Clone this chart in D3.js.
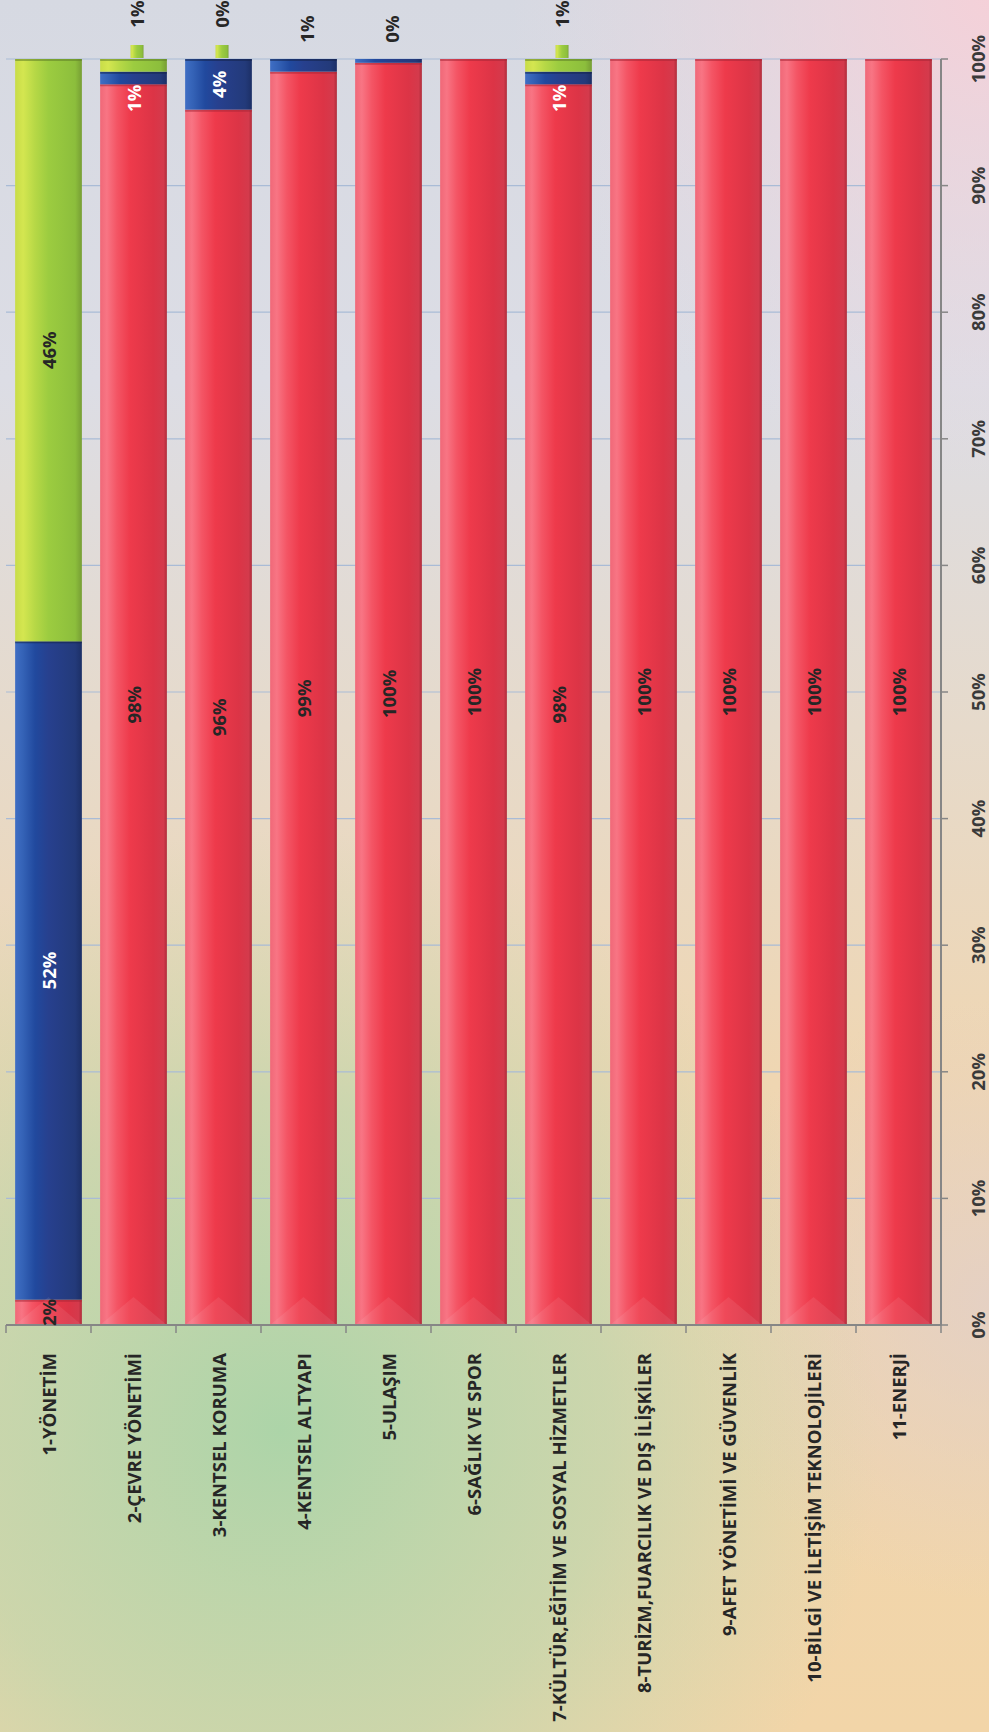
<html>
<head>
<meta charset="utf-8">
<title>Faaliyet alanlarına göre dağılım</title>
<style>
body { margin: 0; padding: 0; }
svg text { font-family: 'Open Sans', sans-serif; font-weight: bold; }
.cat text { fill: #262626; font-size: 18.5px; }
.val text { fill: #3a3a3a; font-size: 18.5px; }
.lbl { font-size: 18.5px; }
</style>
</head>
<body>
<div id="chart"></div>
<script src="https://d3js.org/d3.v7.min.js"></script>
<script>

// categories, left to right
var categories = ["1-YÖNETİM", "2-ÇEVRE YÖNETİMİ", "3-KENTSEL KORUMA", "4-KENTSEL ALTYAPI",
  "5-ULAŞIM", "6-SAĞLIK VE SPOR", "7-KÜLTÜR,EĞİTİM VE SOSYAL HİZMETLER",
  "8-TURİZM,FUARCILIK VE DIŞ İLİŞKİLER", "9-AFET YÖNETİMİ VE GÜVENLİK",
  "10-BİLGİ VE İLETİŞİM TEKNOLOJİLERİ", "11-ENERJİ"];

// series (percent), stacked bottom to top: red, blue, green
var redValues   = [2, 98, 96, 99, 99.7, 100, 98, 100, 100, 100, 100];
var blueValues  = [52, 1, 4, 1, 0.3, 0, 1, 0, 0, 0, 0];
var greenValues = [46, 1, 0, 0, 0, 0, 1, 0, 0, 0, 0];

// which labels are shown: "in" = inside segment, "out" = above the bar, null = none
var redLabels   = ["in", "in", "in", "in", "in", "in", "in", "in", "in", "in", "in"];
var blueLabels  = ["in", "in", "in", "out", "out", null, "in", null, null, null, null];
var greenLabels = ["in", "out", "out", null, null, null, "out", null, null, null, null];

var valueTicks = [0, 10, 20, 30, 40, 50, 60, 70, 80, 90, 100];

var W = 989, H = 1732;

var svg = d3.select("#chart").append("svg")
  .attr("width", W)
  .attr("height", H);

var defs = svg.append("defs");

// background
var bg = defs.append("linearGradient").attr("id", "bgBase")
  .attr("x1", 0).attr("y1", 0).attr("x2", 0).attr("y2", 1);
[[0, "#d6d9e2"], [0.22, "#dcdde5"], [0.42, "#e6dacb"], [0.62, "#efd6b2"], [1, "#f2d5a8"]]
  .forEach(function(s){ bg.append("stop").attr("offset", s[0]).attr("stop-color", s[1]); });

var green = defs.append("radialGradient").attr("id", "bgGreen")
  .attr("gradientUnits", "userSpaceOnUse")
  .attr("cx", 280).attr("cy", 1430).attr("r", 600);
green.append("stop").attr("offset", 0).attr("stop-color", "#a9d4a8").attr("stop-opacity", 0.95);
green.append("stop").attr("offset", 0.55).attr("stop-color", "#b4d6ac").attr("stop-opacity", 0.6);
green.append("stop").attr("offset", 1).attr("stop-color", "#c0d8b0").attr("stop-opacity", 0);

var pink = defs.append("radialGradient").attr("id", "bgPink")
  .attr("gradientUnits", "userSpaceOnUse")
  .attr("cx", 989).attr("cy", 0).attr("r", 480);
pink.append("stop").attr("offset", 0).attr("stop-color", "#f6d0d8").attr("stop-opacity", 0.95);
pink.append("stop").attr("offset", 1).attr("stop-color", "#f0d8e0").attr("stop-opacity", 0);

var mauve = defs.append("radialGradient").attr("id", "bgMauve")
  .attr("gradientUnits", "userSpaceOnUse")
  .attr("cx", 989).attr("cy", 1300).attr("r", 300);
mauve.append("stop").attr("offset", 0).attr("stop-color", "#e2cfc8").attr("stop-opacity", 0.8);
mauve.append("stop").attr("offset", 1).attr("stop-color", "#e2cfc8").attr("stop-opacity", 0);

svg.append("rect").attr("width", W).attr("height", H).attr("fill", "url(#bgBase)");
svg.append("rect").attr("width", W).attr("height", H).attr("fill", "url(#bgPink)");
svg.append("rect").attr("width", W).attr("height", H).attr("fill", "url(#bgMauve)");
svg.append("rect").attr("width", W).attr("height", H).attr("fill", "url(#bgGreen)");

// bar fills, shaded across the bar like a tube
function barGradient(id, stops) {
  var g = defs.append("linearGradient").attr("id", id)
    .attr("x1", 0).attr("y1", 0).attr("x2", 1).attr("y2", 0);
  stops.forEach(function(s){ g.append("stop").attr("offset", s[0]).attr("stop-color", s[1]); });
}
barGradient("gRed", [[0, "#f06878"], [0.1, "#f87584"], [0.25, "#f45565"], [0.45, "#ee3a4b"], [0.8, "#dc3446"], [0.95, "#d43a4c"], [1, "#b02c3a"]]);
barGradient("gBlue", [[0, "#3f6ec4"], [0.12, "#3462b6"], [0.3, "#21499e"], [0.5, "#27408e"], [0.9, "#233a7a"], [1, "#1c2f66"]]);
barGradient("gGreen", [[0, "#c8dc48"], [0.12, "#d4e650"], [0.3, "#b6d846"], [0.5, "#9ccc40"], [0.9, "#8cbe3c"], [1, "#779e34"]]);

var x = d3.scaleBand()
  .domain(categories)
  .range([6, 941])
  .paddingInner(0.215)
  .paddingOuter(0.1075);

var y = d3.scaleLinear()
  .domain([0, 100])
  .range([1325, 59]);

// gridlines
svg.append("g")
  .selectAll("line")
  .data(valueTicks.slice(1))
  .enter().append("line")
  .attr("x1", 6).attr("x2", 941)
  .attr("y1", function(d){ return y(d); })
  .attr("y2", function(d){ return y(d); })
  .attr("stroke", "#a9bbd6")
  .attr("stroke-width", 1.2);

// stacked data
var rows = categories.map(function(c, i){
  return { cat: c, red: redValues[i], blue: blueValues[i], green: greenValues[i],
           redLabel: redLabels[i], blueLabel: blueLabels[i], greenLabel: greenLabels[i] };
});
var keys = ["red", "blue", "green"];
var fills = { red: "url(#gRed)", blue: "url(#gBlue)", green: "url(#gGreen)" };
var edges = { red: "#a82636", blue: "#14224a", green: "#5e7e26" };
var stacked = d3.stack().keys(keys)(rows);

var layers = svg.append("g").selectAll("g")
  .data(stacked)
  .enter().append("g");

layers.selectAll("rect")
  .data(function(s){ return s.map(function(d){ d.key = s.key; return d; }); })
  .enter().append("rect")
  .filter(function(d){ return d[1] - d[0] > 0; })
  .attr("x", function(d){ return x(d.data.cat); })
  .attr("width", x.bandwidth())
  .attr("y", function(d){ return y(d[1]); })
  .attr("height", function(d){ return y(d[0]) - y(d[1]); })
  .attr("fill", function(d){ return fills[d.key]; });

// dark seam at the top of each segment
layers.selectAll("line")
  .data(function(s){ return s.filter(function(d){ return d[1] - d[0] > 0.5; }); })
  .enter().append("line")
  .attr("x1", function(d){ return x(d.data.cat); })
  .attr("x2", function(d){ return x(d.data.cat) + x.bandwidth(); })
  .attr("y1", function(d){ return y(d[1]) + 1; })
  .attr("y2", function(d){ return y(d[1]) + 1; })
  .attr("stroke", function(d){ return edges[d.key]; })
  .attr("stroke-opacity", 0.55)
  .attr("stroke-width", 2);

// soft bevel at the foot of each bar
svg.append("g").selectAll("path")
  .data(categories)
  .enter().append("path")
  .attr("d", function(c){
    var x0 = x(c), w = x.bandwidth(), b = y(0);
    return "M" + x0 + "," + b + "L" + (x0 + w / 2) + "," + (b - w * 0.42) + "L" + (x0 + w) + "," + b + "Z";
  })
  .attr("fill", "#ffffff")
  .attr("fill-opacity", 0.08);

// value axis on the right
var valAxis = svg.append("g").attr("class", "val");
valAxis.append("line")
  .attr("x1", 941).attr("x2", 941)
  .attr("y1", y(100)).attr("y2", y(0))
  .attr("stroke", "#868686").attr("stroke-width", 2);
valAxis.selectAll("line.tick")
  .data(valueTicks)
  .enter().append("line")
  .attr("class", "tick")
  .attr("x1", 941).attr("x2", 948)
  .attr("y1", function(d){ return y(d); })
  .attr("y2", function(d){ return y(d); })
  .attr("stroke", "#868686").attr("stroke-width", 1.5);
valAxis.selectAll("text")
  .data(valueTicks)
  .enter().append("text")
  .attr("transform", function(d){ return "translate(977," + y(d) + ") rotate(-90)"; })
  .attr("text-anchor", "middle")
  .attr("dominant-baseline", "central")
  .text(function(d){ return d + "%"; });

// category axis at the bottom
var catAxis = svg.append("g").attr("class", "cat");
catAxis.append("line")
  .attr("x1", 6).attr("x2", 941)
  .attr("y1", y(0)).attr("y2", y(0))
  .attr("stroke", "#868686").attr("stroke-width", 2);
var bounds = categories.map(function(c){ return x(c) - x.step() * x.paddingInner() / 2; });
bounds.push(941);
catAxis.selectAll("line.tick")
  .data(bounds)
  .enter().append("line")
  .attr("class", "tick")
  .attr("x1", function(d){ return d; })
  .attr("x2", function(d){ return d; })
  .attr("y1", y(0)).attr("y2", y(0) + 8)
  .attr("stroke", "#868686").attr("stroke-width", 1.5);
catAxis.selectAll("text")
  .data(categories)
  .enter().append("text")
  .attr("transform", function(d){
    return "translate(" + (x(d) + x.bandwidth() / 2) + "," + (y(0) + 28) + ") rotate(-90)";
  })
  .attr("text-anchor", "end")
  .attr("dominant-baseline", "central")
  .text(function(d){ return d; });

// data labels
var fmt = d3.format(".0f");
var labelColor = { red: "#262626", blue: "#ffffff", green: "#262626" };
var outOffset = { blue: 30, green: 45 };
var labels = [];
stacked.forEach(function(s){
  s.forEach(function(d){
    var mode = d.data[s.key + "Label"];
    if (!mode) return;
    labels.push({ key: s.key, mode: mode, cat: d.data.cat, lo: d[0], hi: d[1], v: d.data[s.key] });
  });
});

var lbl = svg.append("g");

// legend keys for green labels drawn above the bar
lbl.selectAll("rect")
  .data(labels.filter(function(d){ return d.mode === "out" && d.key === "green"; }))
  .enter().append("rect")
  .attr("x", function(d){ return x(d.cat) + x.bandwidth() / 2 - 3; })
  .attr("y", y(100) - 14)
  .attr("width", 13).attr("height", 13)
  .attr("fill", "url(#gGreen)");

lbl.selectAll("text")
  .data(labels)
  .enter().append("text")
  .attr("class", "lbl")
  .attr("transform", function(d){
    var cx = x(d.cat) + x.bandwidth() / 2;
    var cy = (y(d.lo) + y(d.hi)) / 2;
    // a one-percent label sits just below its thin segment
    if (d.mode === "in" && d.key === "blue" && d.hi - d.lo < 2) cy = y(d.lo) + 14;
    if (d.mode === "out") { cx += 3; cy = y(100) - outOffset[d.key]; }
    return "translate(" + cx + "," + cy + ") rotate(-90)";
  })
  .attr("text-anchor", "middle")
  .attr("dominant-baseline", "central")
  .attr("fill", function(d){ return d.mode === "out" ? "#262626" : labelColor[d.key]; })
  .text(function(d){ return fmt(d.v) + "%"; });

</script>
</body>
</html>
